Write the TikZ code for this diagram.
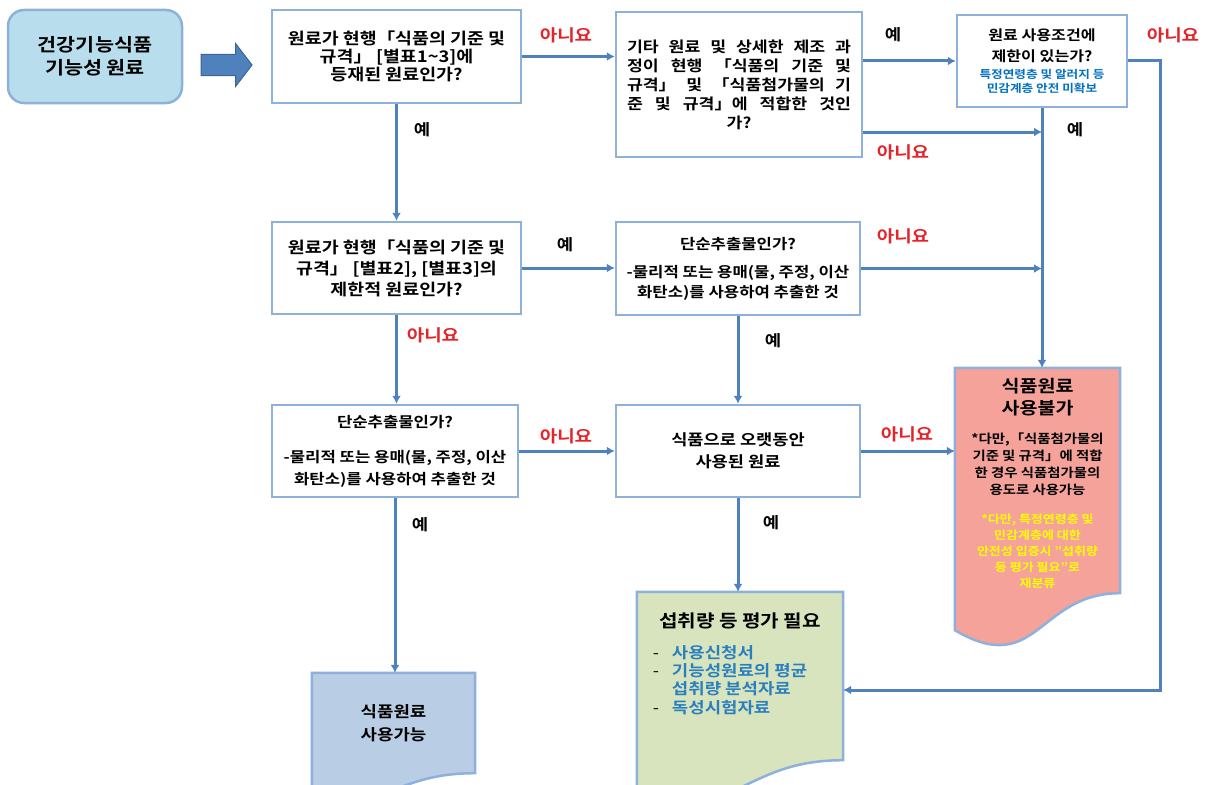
\documentclass[tikz,border=0pt]{standalone}
\usepackage{fontspec}
\setmainfont{Noto Sans CJK KR}[FakeStretch=1.15, BoldFont={Noto Sans CJK KR Bold}, BoldFeatures={FakeStretch=1.15}]
\usetikzlibrary{arrows.meta,positioning,shapes.arrows,backgrounds,calc}

\definecolor{flowblue}{HTML}{4F81BD}
\definecolor{boxedge}{HTML}{8EB1DC}
\definecolor{startfill}{HTML}{B8DDEC}
\definecolor{nored}{HTML}{E3252B}
\definecolor{smallblue}{HTML}{0070C0}
\definecolor{listblue}{HTML}{2A80BF}
\definecolor{docred}{HTML}{F4A29A}
\definecolor{docgreen}{HTML}{D8E4BE}
\definecolor{docblue}{HTML}{B9CDE5}
\definecolor{arrowedge}{HTML}{3B6494}
\definecolor{warnyellow}{HTML}{FFFF00}

\newcommand\fsz[2]{\fontsize{#1}{#2}\selectfont}
\newcommand\sm[1]{{\color{smallblue}\fsz{11}{13}#1}}
\newcommand\yl[1]{{\color{warnyellow}\fsz{11.3}{15}#1}}
\newcommand\jl[1]{\makebox[224pt][s]{#1}}
% document outline under a node: node, fill, control offset, left end offset
\newcommand\docshape[4]{%
  \draw[fill=#2, draw=boxedge, line width=2.5pt] (#1.north west) -- (#1.north east) -- (#1.south east)
    .. controls (#1.south) and ($(#1.south)+(0,#3)$) .. ($(#1.south west)+(0,#4)$) -- cycle;}

\begin{document}
\begin{tikzpicture}[x=1pt, y=-1pt, >={Latex[length=8pt,width=9pt]}, font=\bfseries]
\tikzstyle{startbox}=[rectangle, rounded corners=16pt, draw=boxedge, line width=2.5pt, fill=startfill, align=center, minimum width=174pt, minimum height=93pt, font=\fsz{18}{23}\bfseries]
\tikzstyle{qbox}=[rectangle, draw=boxedge, line width=2.5pt, fill=white, align=center, inner sep=0pt, font=\fsz{16}{19}\bfseries]
\tikzstyle{doc}=[rectangle, align=center, inner sep=0pt]
\tikzstyle{flow}=[->, draw=flowblue, line width=3pt]
\tikzstyle{yeslbl}=[inner sep=0pt, font=\fsz{15.5}{18}\bfseries]
\tikzstyle{nolbl}=[inner sep=0pt, text=nored, font=\fsz{16.5}{18}\bfseries]
\useasboundingbox (0,0) rectangle (1212,784);

\node[startbox] (src) at (95,56.5) {건강기능식품\\기능성 원료};
\node[single arrow, draw=arrowedge, fill=flowblue, line width=1pt, minimum height=51pt, inner xsep=0pt, inner ysep=10pt, single arrow head extend=11pt, single arrow tip angle=105] (go) at (222.5,65) {};

\node[qbox, minimum width=249pt, minimum height=93pt, font=\fsz{16}{18}\bfseries] (q1) at (396.5,56.5) {원료가 현행「식품의 기준 및\\규격」 [별표1\string~3]에\\등재된 원료인가?};
\node[qbox, minimum width=246pt, minimum height=145pt, font=\fsz{15}{19}\bfseries] (q2) at (739,84.5) {\jl{기타 원료 및 상세한 제조 과}\\\jl{정이 현행 「식품의 기준 및}\\\jl{규격」 및 「식품첨가물의 기}\\\jl{준 및 규격」에 적합한 것인}\\가?};
\node[qbox, minimum width=170pt, minimum height=92pt, font=\fsz{14}{21}\bfseries] (q3) at (1042,61) {원료 사용조건에\\제한이 있는가?\\[-4pt]\sm{특정연령층 및 알러지 등}\\[-7pt]\sm{민감계층 안전 미확보}};
\node[qbox, minimum width=249pt, minimum height=92pt, font=\fsz{16}{21}\bfseries] (q4) at (396.5,268) {원료가 현행「식품의 기준 및\\규격」 [별표2], [별표3]의\\제한적 원료인가?};
\node[qbox, minimum width=244pt, minimum height=93pt, font=\fsz{14.5}{20}\bfseries] (q5) at (738,268.5) {단순추출물인가?\\[8pt]-물리적 또는 용매(물, 주정, 이산\\화탄소)를 사용하여 추출한 것};
\node[qbox, minimum width=246pt, minimum height=92pt, font=\fsz{14.5}{22}\bfseries] (q6) at (395,451) {단순추출물인가?\\[13pt]-물리적 또는 용매(물, 주정, 이산\\화탄소)를 사용하여 추출한 것};
\node[qbox, minimum width=244pt, minimum height=92pt, font=\fsz{15.3}{22}\bfseries] (q7) at (738,451) {식품으로 오랫동안\\사용된 원료};

% end documents
\node[doc, minimum width=165pt, minimum height=225pt, font=\fsz{12.5}{17}\bfseries] (red) at (1037.5,480.5) {\rule{0pt}{19pt}\fsz{17}{20}식품원료\\[5pt]\fsz{17}{20}사용불가\\[12pt]*다만,「식품첨가물의\\기준 및 규격」에 적합\\한 경우 식품첨가물의\\용도로 사용가능\\[12pt]\yl{*다만, 특정연령층 및}\\[-1pt]\yl{민감계층에 대한}\\[-1pt]\yl{안전성 입증시 "섭취량}\\[-1pt]\yl{등 평가 필요"로}\\[-1pt]\yl{재분류}};
\node[doc, minimum width=206pt, minimum height=168pt, font=\fsz{14}{22}\bfseries] (grn) at (740,676) {\fsz{17.5}{22}섭취량 등 평가 필요\\[9pt]\fsz{15.5}{18}\begin{tabular}[t]{@{}l@{\hspace{13pt}}l@{\hspace{20pt}}}
\mdseries - & \color{listblue}사용신청서\\
\mdseries - & \color{listblue}기능성원료의 평균\\
 & \color{listblue}섭취량 분석자료\\
\mdseries - & \color{listblue}독성시험자료\rule[-26pt]{0pt}{0pt}
\end{tabular}};
\node[doc, minimum width=163pt, minimum height=100pt, font=\fsz{15.5}{23}\bfseries] (blu) at (393.5,723) {식품원료\\사용가능};

\begin{scope}[on background layer]
\docshape{red}{docred}{85.5}{37}
\docshape{grn}{docgreen}{63.8}{27.7}
\docshape{blu}{docblue}{38}{16.5}
\end{scope}

\coordinate (j1) at (1042,132);
\coordinate (j2) at (1042,268);
\coordinate (rt) at (1160,690);

\draw[flow] (q1.east) -- (q1.east -| q2.west);
\draw[flow] (q1.south) -- (q4.north);
\draw[flow] (q2.east |- q3.west) -- (q3.west);
\draw[flow] (q2.east |- j1) -- (j1);
\draw[flow] (q3.south) -- (q3.south |- red.north);
\draw[flow] (q3.east) -| (rt) -- (rt -| grn.east);
\draw[flow] (q4.east) -- (q4.east -| q5.west);
\draw[flow] (q4.south) -- (q4.south |- q6.north);
\draw[flow] (q5.east) -- (q5.east -| j2);
\draw[flow] (q5.south) -- (q7.north);
\draw[flow] (q6.east) -- (q6.east -| q7.west);
\draw[flow] (q6.south) -- (q6.south |- blu.north);
\draw[flow] (q7.east) -- (q7.east -| red.west);
\draw[flow] (q7.south) -- (q7.south |- grn.north);

\node[nolbl] (n1) at (566,35) {아니요};
\node[yeslbl] (y1) at (422,130) {예};
\node[yeslbl] (y2) at (893,35) {예};
\node[nolbl] (n2) at (903,152) {아니요};
\node[yeslbl] (y3) at (1075,130) {예};
\node[nolbl] (n3) at (1173,35) {아니요};
\node[yeslbl] (y4) at (565,245) {예};
\node[nolbl] (n4) at (433,335) {아니요};
\node[nolbl] (n5) at (903,236) {아니요};
\node[yeslbl] (y5) at (773,341) {예};
\node[nolbl] (n6) at (566,436) {아니요};
\node[nolbl] (n7) at (907,434) {아니요};
\node[yeslbl] (y6) at (420,525) {예};
\node[yeslbl] (y7) at (771,523) {예};
\end{tikzpicture}
\end{document}
